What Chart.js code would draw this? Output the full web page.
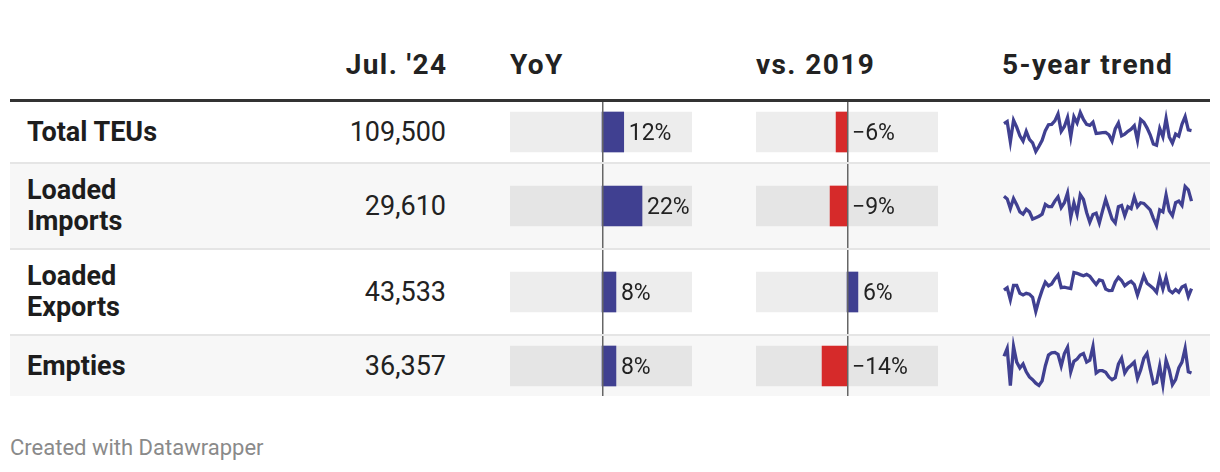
<!DOCTYPE html>
<html>
<head>
<meta charset="utf-8">
<script src="https://cdn.jsdelivr.net/npm/chart.js@4.4.1/dist/chart.umd.min.js"></script>
<style>
  html, body { margin: 0; padding: 0; background: #fff; }
  body { width: 1220px; height: 472px; position: relative; overflow: hidden; font-family: Roboto, sans-serif; color: #222; }
  #table { position: absolute; left: 10px; top: 0; width: 1200px; }
  #head { position: relative; height: 99px; border-bottom: 3px solid #333; }
  .th { position: absolute; top: 51px; font: bold 28px/28px Roboto, sans-serif; letter-spacing: 1.4px; color: #222; white-space: nowrap; }
  .row { position: relative; border-bottom: 2px solid #e5e5e5; }
  .row:last-child { border-bottom: none; }
  .row.alt { background: #f7f7f7; }
  .name { position: absolute; left: 17px; top: 0; bottom: 0; width: 175px; display: flex; align-items: center;
          font: bold 27px/31px Roboto, sans-serif; color: #1d1d1d; }
  .num { position: absolute; left: 220px; width: 216px; top: 0; bottom: 0; display: flex; align-items: center; justify-content: flex-end;
         font: 27px/31px Roboto, sans-serif; color: #222; }
  .row canvas { position: absolute; top: 0; }
  #credit { position: absolute; left: 10px; top: 436.5px; font: 22px/22px Roboto, sans-serif; color: #8a8a8a; }
</style>
</head>
<body>
<div id="table">
  <div id="head"></div>
  <div id="rows"></div>
</div>
<div id="credit">Created with Datawrapper</div>

<script>
// Table data
const rowNames = ['Total TEUs', 'Loaded Imports', 'Loaded Exports', 'Empties'];
const julyValues = [109500, 29610, 43533, 36357];
const yoyChange = [12.0, 22.1, 7.7, 7.7];
const vs2019Change = [-6.0, -9.3, 6.0, -13.7];
const columnTitles = ["Jul. '24", 'YoY', 'vs. 2019', '5-year trend'];

// 5-year monthly trend, thousand TEUs (Aug 2019 - Jul 2024)
const trendTotal = [115.5, 117.3, 99.9, 118.5, 112.5, 105.0, 100.5, 108.9, 102.0, 99.0,
  91.5, 96.0, 101.1, 109.5, 114.6, 114.9, 117.9, 123.9, 108.9, 113.1,
  120.9, 104.1, 121.5, 116.1, 125.1, 119.1, 114.9, 114.0, 116.7, 107.1,
  107.4, 107.7, 108.0, 105.9, 100.5, 111.0, 116.1, 105.0, 106.5, 108.9,
  110.7, 113.7, 101.1, 119.1, 116.7, 111.9, 105.9, 98.0, 96.9, 111.3,
  104.1, 120.0, 104.1, 98.7, 106.5, 104.7, 114.9, 121.5, 110.1, 109.5];
const trendImports = [31.1, 30.3, 27.3, 30.4, 28.5, 26.3, 25.6, 27.1, 26.3, 24.1,
  24.5, 24.9, 25.6, 28.6, 27.9, 27.9, 29.6, 30.9, 27.6, 29.1,
  32.1, 24.6, 29.1, 25.6, 31.6, 30.1, 26.1, 23.1, 25.5, 25.9,
  22.9, 26.6, 30.1, 27.1, 24.1, 22.9, 27.9, 28.3, 25.1, 27.9,
  27.3, 30.9, 27.9, 29.1, 28.9, 27.9, 26.9, 24.3, 22.1, 26.9,
  26.3, 31.5, 26.6, 25.1, 29.1, 29.6, 28.3, 34.1, 33.1, 29.6];
const trendExports = [42.9, 43.8, 39.3, 44.7, 44.7, 41.7, 41.1, 41.7, 41.4, 40.2,
  34.9, 39.3, 42.9, 45.9, 44.5, 45.2, 47.1, 48.6, 43.8, 44.0,
  43.7, 43.5, 49.5, 49.2, 48.7, 48.3, 48.8, 48.1, 46.5, 45.0,
  46.7, 46.4, 43.3, 42.7, 42.8, 45.9, 47.7, 46.5, 44.5, 45.5,
  46.2, 45.0, 41.1, 44.7, 48.3, 45.5, 44.5, 43.5, 42.1, 47.6,
  43.3, 47.7, 42.8, 41.9, 43.1, 42.1, 44.1, 44.7, 40.5, 43.5];
const trendEmpties = [40.7, 42.7, 33.2, 43.2, 39.2, 37.7, 38.7, 36.7, 35.4, 34.7,
  33.8, 33.2, 34.4, 38.2, 41.0, 41.6, 41.7, 41.2, 38.2, 41.4,
  43.0, 36.7, 39.4, 40.0, 41.0, 41.4, 39.2, 39.7, 43.2, 36.4,
  37.0, 37.0, 36.6, 35.4, 34.7, 35.2, 38.7, 40.2, 36.4, 37.7,
  38.4, 39.2, 35.0, 37.2, 40.2, 41.4, 37.4, 33.7, 34.0, 38.2,
  33.4, 39.7, 37.2, 33.4, 34.7, 37.7, 39.2, 42.7, 36.7, 36.4];
const trends = [trendTotal, trendImports, trendExports, trendEmpties];

// bar column ranges (percent)
const yoyRange = [-50.8, 49.7];
const vs2019Range = [-50, 50];

const BLUE = '#404091';
const RED = '#d62a2a';

// month labels for the sparklines
const monthNames = ['Jan','Feb','Mar','Apr','May','Jun','Jul','Aug','Sep','Oct','Nov','Dec'];
const trendMonths = trendTotal.map((_, i) => {
  const m = (7 + i) % 12;
  const y = 2019 + Math.floor((7 + i) / 12);
  return monthNames[m] + ' ' + y;
});

const rowHeights = [60, 84, 84, 60];

// zero line + value label drawn on each bar cell
const cellDecor = {
  id: 'cellDecor',
  afterDatasetsDraw(chart) {
    const ctx = chart.ctx;
    const x = chart.scales.x;
    const v = chart.data.datasets[0].data[0];
    const zero = x.getPixelForValue(0);
    const yc = chart.height / 2;
    ctx.save();
    ctx.fillStyle = '#666';
    ctx.fillRect(zero, 0, 1.5, chart.height);
    const r = Math.round(v);
    const txt = (r < 0 ? '\u2212' + Math.abs(r) : r) + '%';
    ctx.font = '23px Roboto';
    ctx.fillStyle = '#222';
    ctx.textAlign = 'left';
    ctx.textBaseline = 'alphabetic';
    ctx.fillText(txt, x.getPixelForValue(Math.max(v, 0)) + 5, yc + 8.2);
    ctx.restore();
  }
};

function makeCanvas(parent, left, width, height) {
  const c = document.createElement('canvas');
  c.width = width;
  c.height = height;
  c.style.left = left + 'px';
  c.style.width = width + 'px';
  c.style.height = height + 'px';
  parent.appendChild(c);
  return c;
}

function createBarCell(parent, left, height, name, value, range) {
  const canvas = makeCanvas(parent, left, 182, height);
  new Chart(canvas, {
    type: 'bar',
    data: {
      labels: [name],
      datasets: [{
        data: [value],
        backgroundColor: value < 0 ? RED : BLUE,
        barThickness: 40,
        grouped: false,
        borderWidth: 0
      }, {
        data: [range],
        backgroundColor: 'rgba(0,0,0,0.07)',
        barThickness: 40,
        grouped: false,
        borderWidth: 0
      }]
    },
    options: {
      indexAxis: 'y',
      responsive: false,
      animation: false,
      events: [],
      layout: { padding: 0 },
      plugins: { legend: { display: false }, tooltip: { enabled: false } },
      scales: {
        x: { type: 'linear', min: range[0], max: range[1], display: false },
        y: { display: false }
      }
    },
    plugins: [cellDecor]
  });
}

function createSparkline(parent, left, height, series) {
  const canvas = makeCanvas(parent, left, 196, height);
  const pad = (height - 39) / 2;
  new Chart(canvas, {
    type: 'line',
    data: {
      labels: trendMonths,
      datasets: [{
        data: series,
        borderColor: BLUE,
        borderWidth: 3.3,
        pointRadius: 0,
        tension: 0,
        clip: false
      }]
    },
    options: {
      responsive: false,
      animation: false,
      events: [],
      layout: { padding: { left: 4, right: 4.5, top: pad, bottom: pad } },
      plugins: { legend: { display: false }, tooltip: { enabled: false } },
      scales: {
        x: { display: false },
        y: { display: false, min: Math.min(...series), max: Math.max(...series) }
      }
    }
  });
}

// header
const head = document.getElementById('head');
const headPos = [{ right: 1200 - 436 }, { left: 500 }, { left: 746 }, { left: 992 }];
columnTitles.forEach((t, i) => {
  const d = document.createElement('div');
  d.className = 'th';
  d.textContent = t;
  if (headPos[i].left !== undefined) d.style.left = headPos[i].left + 'px';
  else d.style.right = (headPos[i].right - 1.4) + 'px';
  head.appendChild(d);
});

// rows
const rowsEl = document.getElementById('rows');
rowNames.forEach((name, i) => {
  const row = document.createElement('div');
  row.className = 'row' + (i % 2 ? ' alt' : '');
  row.style.height = rowHeights[i] + 'px';
  rowsEl.appendChild(row);

  const n = document.createElement('div');
  n.className = 'name';
  n.textContent = name;
  row.appendChild(n);

  const v = document.createElement('div');
  v.className = 'num';
  v.textContent = julyValues[i].toLocaleString('en-US');
  row.appendChild(v);

  createBarCell(row, 500, rowHeights[i], name, yoyChange[i], yoyRange);
  createBarCell(row, 746, rowHeights[i], name, vs2019Change[i], vs2019Range);
  createSparkline(row, 990, rowHeights[i], trends[i]);
});
</script>
</body>
</html>
